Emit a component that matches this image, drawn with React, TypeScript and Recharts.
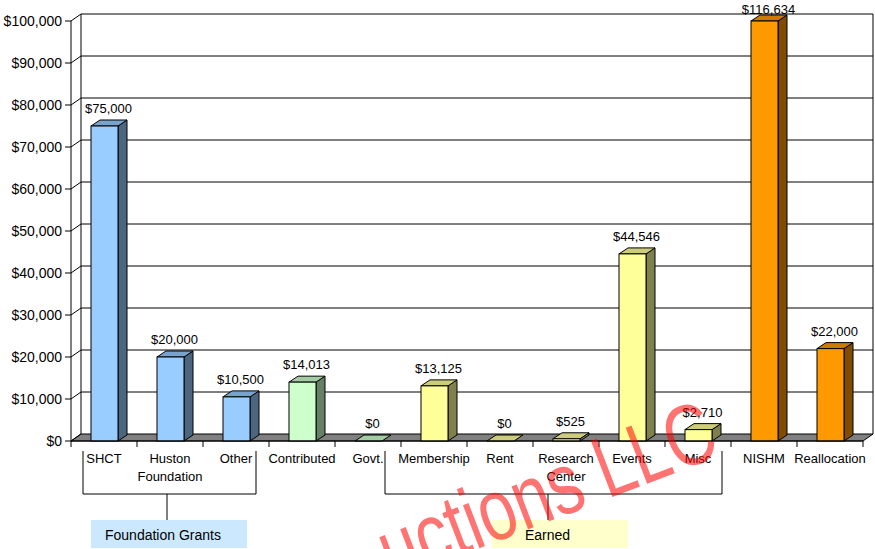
import React from 'react'
import { BarChart, Bar, XAxis, YAxis, CartesianGrid, LabelList } from 'recharts'

const categories = ['SHCT', 'Huston\nFoundation', 'Other', 'Contributed', 'Govt.', 'Membership', 'Rent', 'Research\nCenter', 'Events', 'Misc', 'NISHM', 'Reallocation']
const amounts = [75000, 20000, 10500, 14013, 0, 13125, 0, 525, 44546, 2710, 116634, 22000]
const segments = ['grant', 'grant', 'grant', 'contributed', 'contributed', 'earned', 'earned', 'earned', 'earned', 'earned', 'nishm', 'nishm']
const yTicks = [0, 10000, 20000, 30000, 40000, 50000, 60000, 70000, 80000, 90000, 100000]
const Y_MAX = 100000

const data = categories.map((name, i) => ({
  name,
  amount: amounts[i],
  plotted: Math.min(amounts[i], Y_MAX),
  segment: segments[i],
}))

// chart geometry
const W = 875
const H = 549
const TOP = 21
const BOTTOM = 441
const LEFT = 71
const RIGHT = 863
const X_AXIS_H = 30
const BAND = (RIGHT - LEFT) / categories.length
const DX = 10 // back wall offset
const DY = 7
const BX = 9 // bar depth
const BY = 6
const FONT = '"Liberation Sans", Arial, sans-serif'

const palette: Record<string, { front: string; side: string; top: string }> = {
  grant: { front: '#99CCFF', side: '#4D6680', top: '#7AA3CC' },
  contributed: { front: '#CCFFCC', side: '#668066', top: '#A3CCA3' },
  earned: { front: '#FFFF99', side: '#80804D', top: '#CCCC7A' },
  nishm: { front: '#FF9900', side: '#804D00', top: '#CC7A00' },
}

const money = (v: number) => '$' + v.toLocaleString('en-US')

function Bar3D(props: any) {
  const { x, y, width, height, payload } = props
  const c = palette[payload.segment]
  const top = `${x},${y} ${x + BX},${y - BY} ${x + width + BX},${y - BY} ${x + width},${y}`
  if (!height || height <= 0) {
    return <polygon points={top} fill={c.top} stroke="#000" strokeWidth={1} />
  }
  const side = `${x + width},${y} ${x + width + BX},${y - BY} ${x + width + BX},${y + height - BY} ${x + width},${y + height}`
  return (
    <g>
      <polygon points={side} fill={c.side} stroke="#000" strokeWidth={1} />
      <polygon points={top} fill={c.top} stroke="#000" strokeWidth={1} />
      <rect x={x} y={y} width={width} height={height} fill={c.front} stroke="#000" strokeWidth={1} />
    </g>
  )
}

function ValueLabel(props: any) {
  const { x, y, width, value } = props
  return (
    <text x={x + width / 2 + 4} y={Math.max(y - 13, 14)} textAnchor="middle" fontSize={13} fontFamily={FONT} fill="#000">
      {money(value)}
    </text>
  )
}

function renderHLine(props: any) {
  const { x1, y1, x2, y2, key } = props
  if (Math.abs(y1 - BOTTOM) < 1) {
    // floor
    return (
      <polygon
        key={key}
        points={`${x1},${y1} ${x2},${y2} ${x2 + DX},${y2 - DY} ${x1 + DX},${y1 - DY}`}
        fill="#808080"
        stroke="#000"
        strokeWidth={1}
      />
    )
  }
  return <line key={key} x1={x1 + DX} y1={y1 - DY} x2={x2 + DX} y2={y2 - DY} stroke="#000" strokeWidth={1} />
}

function renderVLine(props: any) {
  const { x1, y1, x2, y2, key } = props
  return <line key={key} x1={x1 + DX} y1={y1 - DY} x2={x2 + DX} y2={y2 - DY} stroke="#000" strokeWidth={1} />
}

function YTick(props: any) {
  const { x, y, payload } = props
  return (
    <g>
      <line x1={LEFT} y1={y} x2={LEFT + DX} y2={y - DY} stroke="#000" strokeWidth={1} />
      <text x={x - 1} y={y} dy={4.5} textAnchor="end" fontSize={14} fontFamily={FONT} fill="#000">
        {money(payload.value)}
      </text>
    </g>
  )
}

function XTick(props: any) {
  const { x, payload, index } = props
  const lines = String(payload.value).split('\n')
  return (
    <g>
      <line x1={x - BAND / 2} y1={BOTTOM} x2={x - BAND / 2} y2={BOTTOM + 6} stroke="#000" strokeWidth={1} />
      {index === categories.length - 1 && (
        <line x1={x + BAND / 2} y1={BOTTOM} x2={x + BAND / 2} y2={BOTTOM + 6} stroke="#000" strokeWidth={1} />
      )}
      {lines.map((t, i) => (
        <text key={i} x={x} y={BOTTOM + 22 + i * 18} textAnchor="middle" fontSize={13} fontFamily={FONT} fill="#000">
          {t}
        </text>
      ))}
    </g>
  )
}

export default function App() {
  return (
    <div style={{ position: 'relative', width: W, height: H, background: '#fff' }}>
      <style>{'body{margin:0}'}</style>
      <BarChart
        width={W}
        height={H}
        data={data}
        margin={{ top: TOP, right: W - RIGHT, left: 0, bottom: H - BOTTOM - X_AXIS_H }}
      >
        <CartesianGrid horizontal={renderHLine} vertical={renderVLine} verticalPoints={[LEFT, RIGHT]} />
        <XAxis dataKey="name" interval={0} height={X_AXIS_H} tickLine={false} axisLine={{ stroke: '#000' }} tick={XTick} />
        <YAxis
          width={LEFT}
          domain={[0, Y_MAX]}
          ticks={yTicks}
          interval={0}
          axisLine={{ stroke: '#000' }}
          tickLine={{ stroke: '#000' }}
          tick={YTick}
        />
        <Bar dataKey="plotted" barSize={27} shape={Bar3D} isAnimationActive={false}>
          <LabelList dataKey="amount" content={ValueLabel} />
        </Bar>
      </BarChart>

      <svg width={W} height={H} style={{ position: 'absolute', left: 0, top: 0, pointerEvents: 'none' }}>
        {/* group brackets */}
        <path d="M83 451 V494 H256 V451 M167 494 V520" stroke="#000" fill="none" strokeWidth={1} />
        <rect x={91} y={520} width={156} height={28} fill="#CCE8FF" />
        <text x={105} y={540} fontSize={14} fontFamily={FONT} fill="#000">Foundation Grants</text>
        <path d="M385 451 V494 H722 V451 M548 494 V520" stroke="#000" fill="none" strokeWidth={1} />
        <rect x={492} y={520} width={136} height={28} fill="#FFFFCC" />
        <text x={525} y={540} fontSize={14} fontFamily={FONT} fill="#000">Earned</text>
        {/* watermark */}
        <g transform="translate(722 455) rotate(-21) scale(1 1.3)">
          <text x={0} y={0} textAnchor="end" fontSize={67} fontFamily={FONT} fill="#FF0000" fillOpacity={0.55}>
            uctions LLC
          </text>
        </g>
      </svg>
    </div>
  )
}
